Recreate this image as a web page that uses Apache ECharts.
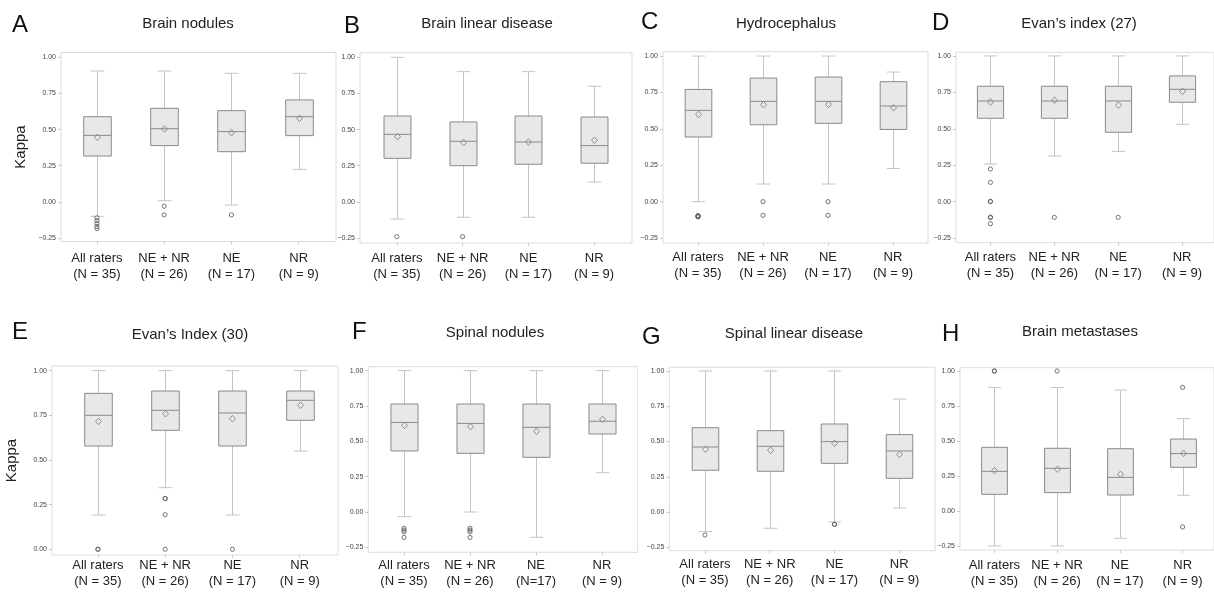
<!DOCTYPE html>
<html><head><meta charset="utf-8">
<script src="https://cdn.jsdelivr.net/npm/echarts@6/dist/echarts.min.js"></script>
<style>html,body{margin:0;padding:0;background:#fff}#c{width:1214px;height:604px}</style>
</head><body><div id="c"></div>
<script>
// ---------- DATA ----------
const categories = ['All raters\n(N = 35)', 'NE + NR\n(N = 26)', 'NE\n(N = 17)', 'NR\n(N = 9)'];
const categoriesF = ['All raters\n(N = 35)', 'NE + NR\n(N = 26)', 'NE\n(N=17)', 'NR\n(N = 9)'];
const yTicks = [-0.25, 0, 0.25, 0.5, 0.75, 1];
const yTicksE = [0, 0.25, 0.5, 0.75, 1];
const panelLetters = ['A', 'B', 'C', 'D', 'E', 'F', 'G', 'H'];
const panelTitles = ['Brain nodules', 'Brain linear disease', 'Hydrocephalus', 'Evan\u2019s index (27)',
  'Evan\u2019s Index (30)', 'Spinal nodules', 'Spinal linear disease', 'Brain metastases'];

// each box: [lower whisker, Q1, median, Q3, upper whisker, mean]
const boxA = [[-0.10, 0.317, 0.46, 0.589, 0.905, 0.446], [0.008, 0.389, 0.506, 0.647, 0.905, 0.504], [-0.022, 0.347, 0.486, 0.631, 0.889, 0.479], [0.225, 0.458, 0.589, 0.705, 0.889, 0.578]];
const boxB = [[-0.119, 0.301, 0.467, 0.594, 1.0, 0.451], [-0.107, 0.25, 0.419, 0.553, 0.901, 0.41], [-0.107, 0.26, 0.414, 0.594, 0.901, 0.414], [0.137, 0.267, 0.389, 0.587, 0.80, 0.426]];
const boxC = [[0.0, 0.444, 0.627, 0.771, 1.0, 0.599], [0.121, 0.528, 0.689, 0.849, 1.0, 0.666], [0.121, 0.538, 0.689, 0.856, 1.0, 0.668], [0.228, 0.496, 0.657, 0.824, 0.89, 0.645]];
const boxD = [[0.258, 0.572, 0.691, 0.792, 1.0, 0.684], [0.313, 0.572, 0.691, 0.792, 1.0, 0.696], [0.345, 0.476, 0.691, 0.792, 1.0, 0.663], [0.531, 0.682, 0.771, 0.863, 1.0, 0.757]];
const boxE = [[0.192, 0.578, 0.75, 0.873, 1.0, 0.716], [0.345, 0.666, 0.778, 0.886, 1.0, 0.759], [0.192, 0.578, 0.763, 0.886, 1.0, 0.731], [0.55, 0.722, 0.834, 0.886, 1.0, 0.806]];
const boxF = [[-0.033, 0.432, 0.634, 0.764, 1.0, 0.613], [0.0, 0.415, 0.627, 0.764, 1.0, 0.604], [-0.179, 0.387, 0.599, 0.764, 1.0, 0.571], [0.278, 0.552, 0.642, 0.764, 1.0, 0.656]];
const boxG = [[-0.139, 0.296, 0.461, 0.598, 1.0, 0.445], [-0.115, 0.289, 0.466, 0.577, 1.0, 0.438], [-0.07, 0.345, 0.499, 0.624, 1.0, 0.487], [0.029, 0.239, 0.433, 0.549, 0.801, 0.409]];
const boxH = [[-0.25, 0.119, 0.283, 0.455, 0.883, 0.288], [-0.25, 0.131, 0.305, 0.448, 0.883, 0.298], [-0.195, 0.114, 0.24, 0.445, 0.864, 0.262], [0.112, 0.312, 0.41, 0.514, 0.66, 0.412]];

// outliers: [category index, kappa]
const outA = [[0, -0.11], [0, -0.13], [0, -0.15], [0, -0.17], [0, -0.185], [1, -0.03], [1, -0.09], [2, -0.09]];
const outB = [[0, -0.241], [1, -0.241]];
const outC = [[0, -0.095], [0, -0.1], [0, -0.1], [0, -0.105], [1, 0.0], [1, -0.094], [2, 0.0], [2, -0.094]];
const outD = [[0, 0.224], [0, 0.132], [0, 0.002], [0, 0.0], [0, -0.106], [0, -0.11], [0, -0.152], [1, -0.108], [2, -0.108]];
const outE = [[0, 0.0], [0, 0.0], [1, 0.284], [1, 0.284], [1, 0.194], [1, 0.0], [2, 0.0]];
const outF = [[0, -0.115], [0, -0.128], [0, -0.14], [0, -0.18], [1, -0.115], [1, -0.128], [1, -0.14], [1, -0.18]];
const outG = [[0, -0.163], [2, -0.087], [2, -0.087]];
const outH = [[0, 1.0], [0, 1.0], [1, 1.0], [3, 0.883], [3, -0.114]];

const boxes = [boxA, boxB, boxC, boxD, boxE, boxF, boxG, boxH];
const outliers = [outA, outB, outC, outD, outE, outF, outG, outH];
const catSets = [categories, categories, categories, categories, categories, categoriesF, categories, categories];
const tickSets = [yTicks, yTicks, yTicks, yTicks, yTicksE, yTicks, yTicks, yTicks];

// ---------- LAYOUT (pixels) ----------
// frame: [left, top, right, bottom]; plot: [left, width]; y: [min, max]
const layout = [
  { frame: [61, 52.5, 336, 241.5], plot: [63.3, 269], y: [-0.274, 1.033], lm: 9, title: [188, 25], letter: [12, 26], kappa: true },
  { frame: [360, 52.7, 632, 243], plot: [364, 263], y: [-0.285, 1.032], lm: 7, title: [487, 25], letter: [344, 27] },
  { frame: [663, 51.7, 928, 243], plot: [665.5, 260], y: [-0.284, 1.030], lm: 6.7, title: [786, 25], letter: [641, 23.5] },
  { frame: [956, 52.3, 1216, 242.7], plot: [958.5, 260], y: [-0.282, 1.025], lm: 6.3, title: [1079, 25], letter: [932, 24] },
  { frame: [52, 366, 338, 555], plot: [64.3, 269], y: [-0.032, 1.026], lm: 2, title: [190, 336], letter: [12, 333.5], kappa: true },
  { frame: [368.3, 366.7, 637.7, 552.3], plot: [371, 264], y: [-0.285, 1.028], lm: 4.7, title: [495, 334], letter: [352, 333.5] },
  { frame: [669.3, 367.3, 935, 550.7], plot: [672.6, 259], y: [-0.274, 1.026], lm: 6, title: [794, 335], letter: [642, 338] },
  { frame: [960, 367.7, 1216, 550], plot: [963, 255], y: [-0.279, 1.024], lm: 7, title: [1080, 333], letter: [942, 335.5] }
];

const FONT = 'Liberation Sans, Arial, Helvetica, sans-serif';

function fmt(v) {
  if (Math.abs(v) < 1e-9) return '0.00';
  return v < 0 ? '\u2212' + Math.abs(v).toFixed(2) : v.toFixed(2);
}

function renderBox(params, api) {
  const c = api.value(0);
  const lo = api.coord([c, api.value(1)]);
  const q1 = api.coord([c, api.value(2)]);
  const md = api.coord([c, api.value(3)]);
  const q3 = api.coord([c, api.value(4)]);
  const hi = api.coord([c, api.value(5)]);
  const mn = api.coord([c, api.value(6)]);
  const x = Math.round(md[0]) + 0.5;
  const bw = api.size([1, 0])[0] * 0.41;
  const cw = bw * 0.5;
  const wStyle = { stroke: '#c4c4c4', lineWidth: 1, fill: null };
  const bStyle = { stroke: '#8a8a8a', lineWidth: 1 };
  return {
    type: 'group', children: [
      { type: 'line', shape: { x1: x, y1: hi[1], x2: x, y2: lo[1] }, style: wStyle },
      { type: 'line', shape: { x1: x - cw / 2, y1: hi[1], x2: x + cw / 2, y2: hi[1] }, style: wStyle },
      { type: 'line', shape: { x1: x - cw / 2, y1: lo[1], x2: x + cw / 2, y2: lo[1] }, style: wStyle },
      { type: 'rect', shape: { x: x - bw / 2, y: q3[1], width: bw, height: q1[1] - q3[1] }, style: { fill: '#e8e8e8', stroke: '#8a8a8a', lineWidth: 1 } },
      { type: 'line', shape: { x1: x - bw / 2, y1: md[1], x2: x + bw / 2, y2: md[1] }, style: bStyle },
      { type: 'polygon', shape: { points: [[x, mn[1] - 3.3], [x + 3, mn[1]], [x, mn[1] + 3.3], [x - 3, mn[1]]] }, style: { fill: null, stroke: '#8f8f8f', lineWidth: 1 } }
    ]
  };
}

const grid = [], xAxis = [], yAxis = [], series = [], title = [];
layout.forEach((L, i) => {
  const [fl, ft, fr, fb] = L.frame;
  grid.push({ left: fl, top: ft, width: fr - fl, height: fb - ft, show: true, borderColor: '#dcdcdc', borderWidth: 1, backgroundColor: 'transparent' });
  grid.push({ left: L.plot[0], top: ft, width: L.plot[1], height: fb - ft, show: false });
  const g = grid.length - 1;
  xAxis.push({
    type: 'category', gridIndex: g, data: catSets[i], boundaryGap: true, position: 'bottom',
    axisLine: { show: false, onZero: false },
    axisTick: { show: true, alignWithLabel: true, length: 3, lineStyle: { color: '#cccccc' } },
    axisLabel: { fontFamily: FONT, fontSize: 13, color: '#222', lineHeight: 16, margin: L.lm, interval: 0 },
    splitLine: { show: false }
  });
  yAxis.push({
    type: 'value', gridIndex: g, min: L.y[0], max: L.y[1],
    offset: L.plot[0] - fl,
    name: L.kappa ? 'Kappa' : '', nameLocation: 'middle', nameGap: 33, nameRotate: 90,
    nameTextStyle: { fontFamily: FONT, fontSize: 15, color: '#222' },
    axisLine: { show: false, onZero: false },
    axisTick: { show: true, length: 3, lineStyle: { color: '#c8c8c8' }, customValues: tickSets[i] },
    axisLabel: { fontFamily: FONT, fontSize: 7, color: '#444', margin: 5, customValues: tickSets[i], formatter: fmt },
    splitLine: { show: false }
  });
  series.push({
    type: 'custom', xAxisIndex: i, yAxisIndex: i, renderItem: renderBox,
    encode: { x: 0, y: [1, 2, 3, 4, 5, 6] },
    data: boxes[i].map((b, k) => [k].concat(b)), silent: true, clip: false
  });
  series.push({
    type: 'scatter', xAxisIndex: i, yAxisIndex: i, data: outliers[i], symbol: 'circle', symbolSize: 4.2,
    itemStyle: { color: 'rgba(0,0,0,0)', borderColor: '#555', borderWidth: 1 }, silent: true, z: 3
  });
  title.push({
    text: panelTitles[i], left: L.title[0], top: L.title[1] - 8.5, textAlign: 'center', padding: 0,
    textStyle: { fontFamily: FONT, fontSize: 15, fontWeight: 'normal', color: '#222' }
  });
  title.push({
    text: panelLetters[i], left: L.letter[0], top: L.letter[1] - 13, padding: 0,
    textStyle: { fontFamily: FONT, fontSize: 24, fontWeight: 'normal', color: '#111' }
  });
});

const chart = echarts.init(document.getElementById('c'), null, { renderer: 'canvas' });
chart.setOption({ animation: false, backgroundColor: '#fff', title, grid, xAxis, yAxis, series });
</script></body></html>
